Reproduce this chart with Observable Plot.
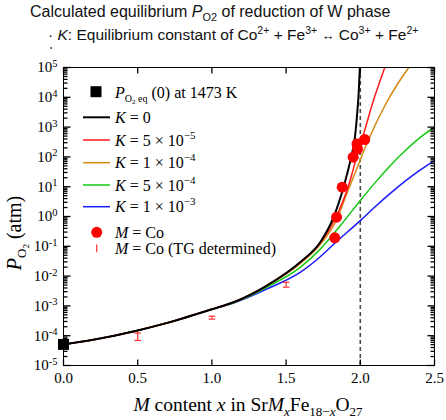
<!DOCTYPE html>
<html><head><meta charset="utf-8">
<script src="https://cdn.jsdelivr.net/npm/d3@7"></script>
<script src="https://cdn.jsdelivr.net/npm/@observablehq/plot@0.6"></script>
<style>
body{margin:0;background:#fff;width:446px;height:420px;overflow:hidden;font-family:"Liberation Sans",Arial,sans-serif;}
#title{position:relative;height:52px;}
.l{position:absolute;white-space:nowrap;font-size:16px;color:#111;line-height:15px;}
sub,sup{font-size:0.68em;line-height:0;}
svg{display:block}
</style></head><body>
<div id="title">
<div class="l" style="left:30px;top:4px">Calculated equilibrium <i>P</i><sub>O2</sub> of reduction of W phase</div>
<div class="l" style="left:48px;top:27px;font-size:15.5px">· <i>K</i>: Equilibrium constant of Co<sup>2+</sup> + Fe<sup>3+</sup> <span style="font-size:13px">↔</span> Co<sup>3+</sup> + Fe<sup>2+</sup></div>
<div class="l" style="left:50px;top:44px;font-size:6.5px;line-height:8px;color:#444">•</div>
</div>
<div id="chart"></div>
<script>
const SERIF = "'Liberation Serif','Times New Roman',serif";

// ---- data ----
const xTicks = [0, 0.5, 1.0, 1.5, 2.0, 2.5];
const yExponents = [-5, -4, -3, -2, -1, 0, 1, 2, 3, 4, 5];

const blackX = [0, 0.2, 0.5, 0.7, 1.0, 1.15, 1.37, 1.6, 1.73, 1.82, 1.887, 1.917, 1.941, 1.961, 1.978, 1.99, 1.997];
const blackP = [5.1e-5, 7.3e-5, 1.5e-4, 2.7e-4, 7.7e-4, 1.35e-3, 4.8e-3, 3.1e-2, 0.137, 0.95, 9.6, 35, 111, 355, 2450, 16900, 1.0e5];

const redX = [0, 0.2, 0.5, 0.7, 1.0, 1.15, 1.37, 1.6, 1.732, 1.833, 1.917, 1.941, 1.968, 1.998, 2.015, 2.028, 2.08, 2.165];
const redP = [5.1e-5, 7.3e-5, 1.5e-4, 2.7e-4, 7.7e-4, 1.35e-3, 4.8e-3, 3.0e-2, 0.131, 0.89, 9.6, 23.8, 75.7, 242, 448, 728, 5730, 1.0e5];

const orangeX = [0, 0.2, 0.5, 0.7, 1.0, 1.15, 1.37, 1.6, 1.732, 1.846, 1.9, 1.944, 1.972, 1.998, 2.025, 2.057, 2.102, 2.17, 2.249, 2.327];
const orangeP = [5.1e-5, 7.3e-5, 1.5e-4, 2.7e-4, 7.7e-4, 1.35e-3, 4.7e-3, 2.75e-2, 0.119, 0.89, 4.5, 15.8, 35.5, 75.7, 164, 384, 1220, 5730, 26900, 1.0e5];

const greenX = [0, 0.2, 0.5, 0.7, 1.0, 1.15, 1.373, 1.597, 1.732, 1.866, 2.0, 2.1, 2.2, 2.3, 2.4, 2.5];
const greenP = [5.1e-5, 7.3e-5, 1.5e-4, 2.7e-4, 7.7e-4, 1.3e-3, 4.3e-3, 1.99e-2, 8.2e-2, 0.50, 3.44, 13.7, 49.8, 157, 434, 993];

const blueX = [0, 0.2, 0.5, 0.7, 1.0, 1.15, 1.373, 1.597, 1.732, 1.826, 2.0, 2.1, 2.2, 2.3, 2.4, 2.5];
const blueP = [5.1e-5, 7.3e-5, 1.5e-4, 2.7e-4, 7.7e-4, 1.27e-3, 3.75e-3, 1.35e-2, 4.55e-2, 0.124, 0.73, 2.12, 5.83, 15.0, 35.2, 75.7];

const coX = [1.828, 1.840, 1.878, 1.952, 1.978, 1.981, 2.030];
const coP = [0.193, 0.95, 9.6, 98, 271, 184, 384];

const tgX = [0.5, 1.0, 1.5];
const tgLow = [6.9e-5, 3.6e-4, 4.25e-3];
const tgHigh = [1.23e-4, 4.5e-4, 6.2e-3];

const eqX = [0];
const eqP = [5.1e-5];

// ---- layout ----
const W = 446, H = 368, mT = 15, mB = 55, mL = 63, mR = 12;
const xDom = [0, 2.5], yDom = [1e-5, 1e5];
const pxPerX = (W - mL - mR) / (xDom[1] - xDom[0]);
const pxPerDecade = (H - mT - mB) / Math.log10(yDom[1] / yDom[0]);
const xLen = px => px / pxPerX;                    // pixel length -> x units
const yFac = px => Math.pow(10, px / pxPerDecade); // pixel length -> y factor

// ---- tables ----
const curves = [
  {xs: blueX, ps: blueP, color: "#1a1aff", w: 1.5},
  {xs: greenX, ps: greenP, color: "#14c814", w: 1.5},
  {xs: orangeX, ps: orangeP, color: "#d4880f", w: 1.5},
  {xs: redX, ps: redP, color: "#ff1a1a", w: 1.5},
  {xs: blackX, ps: blackP, color: "#000", w: 2}
];
const lineMarks = curves.map(c => Plot.line(c.xs.map((x, i) => ({x, y: c.ps[i]})),
  {x: "x", y: "y", stroke: c.color, strokeWidth: c.w, curve: "monotone-x", clip: true}));

const co = coX.map((x, i) => ({x, y: coP[i]}));
const tg = tgX.map((x, i) => ({x, lo: tgLow[i], hi: tgHigh[i]}));
const eq = eqX.map((x, i) => ({x, y: eqP[i]}));
const capHalf = xLen(3.3);

const yMajor = yExponents.map(e => Math.pow(10, e));
const yMinor = [];
for (const e of yExponents.slice(0, -1)) for (let m = 2; m <= 9; m++) yMinor.push(m * Math.pow(10, e));

// tick rows as explicit link segments
const tickRows = [];
for (const v of xTicks) {
  tickRows.push({x1: v, x2: v, y1: yDom[0], y2: yDom[0] * yFac(6)});
  tickRows.push({x1: v, x2: v, y1: yDom[1] / yFac(6), y2: yDom[1]});
}
for (const [vals, len] of [[yMajor, 7], [yMinor, 4]]) {
  for (const v of vals) {
    tickRows.push({x1: xDom[0], x2: xDom[0] + xLen(len), y1: v, y2: v});
    tickRows.push({x1: xDom[1] - xLen(len), x2: xDom[1], y1: v, y2: v});
  }
}

const plot = Plot.plot({
  width: W, height: H,
  marginTop: mT, marginBottom: mB, marginLeft: mL, marginRight: mR,
  style: {fontFamily: SERIF, fontSize: "15px", color: "black", background: "white"},
  x: {domain: xDom},
  y: {type: "log", domain: yDom},
  marks: [
    Plot.ruleX([2], {stroke: "#4a4a4a", strokeWidth: 1.6, strokeDasharray: "4,3"}),
    ...lineMarks,
    Plot.ruleX(tg, {x: "x", y1: "lo", y2: "hi", stroke: "#ff3030", strokeWidth: 1.2}),
    Plot.link(tg, {x1: d => d.x - capHalf, x2: d => d.x + capHalf, y1: "lo", y2: "lo", stroke: "#ff3030", strokeWidth: 1.2}),
    Plot.link(tg, {x1: d => d.x - capHalf, x2: d => d.x + capHalf, y1: "hi", y2: "hi", stroke: "#ff3030", strokeWidth: 1.2}),
    Plot.dot(co, {x: "x", y: "y", r: 5.5, fill: "#ff0000"}),
    Plot.link(tickRows, {x1: "x1", x2: "x2", y1: "y1", y2: "y2", stroke: "#000", strokeWidth: 1.3}),
    Plot.frame({stroke: "black", strokeWidth: 1}),
    Plot.dot(eq, {x: "x", y: "y", symbol: "square", r: 6.2, fill: "black"}),
    Plot.axisX({anchor: "bottom", ticks: xTicks, tickSize: 0, tickPadding: 7, tickFormat: d3.format(".1f"), label: null}),
    Plot.axisY({anchor: "left", ticks: yMajor, tickSize: 0, tickPadding: 6, tickFormat: d => "10^" + Math.round(Math.log10(d)), label: null})
  ]
});
document.getElementById("chart").appendChild(plot);

const svg = d3.select(plot);
// superscript exponents on y tick labels
svg.selectAll("text").each(function () {
  const m = /^10\^(-?\d+)$/.exec(this.textContent);
  if (!m) return;
  const t = d3.select(this);
  t.text("");
  t.append("tspan").text("10");
  t.append("tspan").attr("dy", "-0.5em").attr("font-size", "10.5px").text(m[1]);
});

function rich(g, x, y, size, parts, anchor) {
  const t = g.append("text").attr("x", x).attr("y", y).attr("font-family", SERIF)
    .attr("font-size", size).attr("text-anchor", anchor || "start").attr("fill", "black");
  let cur = 0;
  for (const p of parts) {
    const off = p.off || 0;
    const s = t.append("tspan").text(p.t).attr("dy", off - cur);
    if (p.i) s.attr("font-style", "italic");
    if (p.size) s.attr("font-size", p.size);
    cur = off;
  }
  return t;
}

const g = svg.append("g");
// axis titles
rich(g, 0, 0, 20, [{t: "P", i: true}, {t: "O", size: 13, off: 5}, {t: "2", size: 9, off: 8}, {t: " (atm)", off: 0}], "middle")
  .attr("transform", "translate(21,181) rotate(-90)");
rich(g, 248, 359, 19.5, [
  {t: "M", i: true}, {t: " content "}, {t: "x", i: true}, {t: " in Sr"}, {t: "M", i: true},
  {t: "x", i: true, size: 13, off: 5}, {t: "Fe", off: 0}, {t: "18−", size: 13, off: 5}, {t: "x", i: true, size: 13, off: 5},
  {t: "O", off: 0}, {t: "27", size: 13, off: 5}
], "middle");

// legend
const lx = 115, ls = 16;
g.append("rect").attr("x", 90.5).attr("y", 34.2).attr("width", 11).attr("height", 11).attr("fill", "black");
rich(g, lx, 45.5, ls, [{t: "P", i: true}, {t: "O", size: 10, off: 4}, {t: "2", size: 7, off: 6}, {t: " eq", size: 10, off: 4}, {t: " (0) at 1473 K", off: 0}]);
const legendLines = [
  {y: 65.3, color: "#000", w: 2, parts: [{t: "K", i: true}, {t: " = 0"}]},
  {y: 88, color: "#ff1a1a", w: 1.5, parts: [{t: "K", i: true}, {t: " = 5 × 10"}, {t: "−5", size: 11, off: -7}]},
  {y: 110.7, color: "#d4880f", w: 1.5, parts: [{t: "K", i: true}, {t: " = 1 × 10"}, {t: "−4", size: 11, off: -7}]},
  {y: 133, color: "#14c814", w: 1.5, parts: [{t: "K", i: true}, {t: " = 5 × 10"}, {t: "−4", size: 11, off: -7}]},
  {y: 154.7, color: "#1a1aff", w: 1.5, parts: [{t: "K", i: true}, {t: " = 1 × 10"}, {t: "−3", size: 11, off: -7}]}
];
for (const L of legendLines) {
  g.append("line").attr("x1", 83).attr("x2", 110).attr("y1", L.y).attr("y2", L.y)
    .attr("stroke", L.color).attr("stroke-width", L.w);
  rich(g, lx, L.y + 5.5, ls, L.parts);
}
g.append("circle").attr("cx", 96.7).attr("cy", 180.3).attr("r", 5.5).attr("fill", "#ff0000");
rich(g, lx, 185.8, ls, [{t: "M", i: true}, {t: " = Co"}]);
g.append("line").attr("x1", 96.7).attr("x2", 96.7).attr("y1", 192.4).attr("y2", 200.2)
  .attr("stroke", "#ff3030").attr("stroke-width", 1.2);
rich(g, lx, 201.8, ls, [{t: "M", i: true}, {t: " = Co (TG determined)"}]);
</script>
</body></html>
